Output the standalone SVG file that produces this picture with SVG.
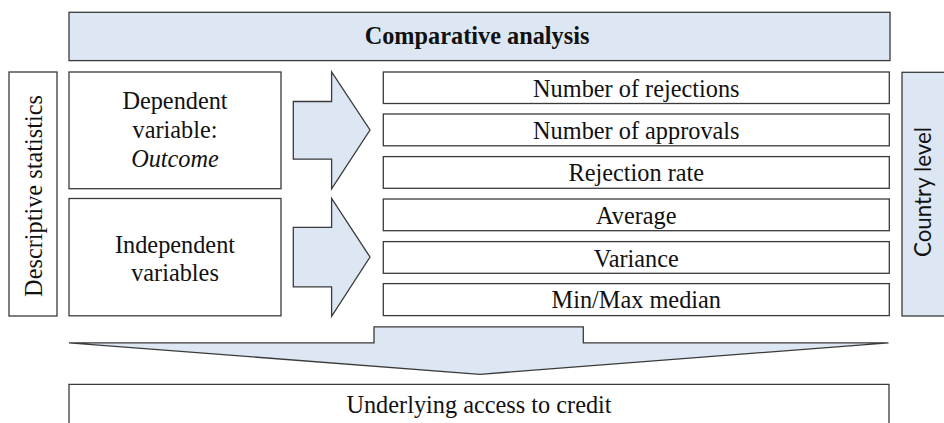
<svg xmlns="http://www.w3.org/2000/svg" width="944" height="423" viewBox="0 0 944 423">
  <style>
    .box { fill: #ffffff; stroke: #3a3a3a; stroke-width: 1.3; }
    .blue { fill: #dde7f3; stroke: #3a3a3a; stroke-width: 1.3; }
    .arrow { fill: #dde7f3; stroke: #3a3a3a; stroke-width: 1.3; stroke-linejoin: miter; }
    .serif { font-family: "Liberation Serif", "Times New Roman", serif; font-size: 24.3px; fill: #111111; }
    .bold { font-weight: bold; }
    .ital { font-style: italic; }
    .sans { font-family: Lato, "Open Sans", "Liberation Sans", sans-serif; font-size: 23px; fill: #111111; }
    .mid { text-anchor: middle; }
  </style>
  <rect width="944" height="423" fill="#ffffff"/>

  <!-- header banner -->
  <g id="comparative-analysis">
    <rect class="blue" x="69" y="12.3" width="821" height="48.3"/>
    <text class="serif bold mid" x="477" y="43.5">Comparative analysis</text>
  </g>

  <!-- left side label -->
  <g id="descriptive-statistics">
    <rect class="box" x="9" y="72" width="48" height="244"/>
    <text class="serif mid" transform="translate(41.5 196) rotate(-90)">Descriptive statistics</text>
  </g>

  <!-- variable blocks -->
  <g id="dependent-variable">
    <rect class="box" x="69" y="72" width="212" height="116.7"/>
    <text class="serif mid" x="175" y="109">Dependent</text>
    <text class="serif mid" x="175" y="138">variable:</text>
    <text class="serif mid ital" x="175" y="166.5">Outcome</text>
  </g>
  <g id="independent-variables">
    <rect class="box" x="69" y="198.5" width="212" height="117.3"/>
    <text class="serif mid" x="175" y="252.5">Independent</text>
    <text class="serif mid" x="175" y="280.5">variables</text>
  </g>

  <!-- measures -->
  <g id="number-of-rejections">
    <rect class="box" x="383.3" y="72" width="506" height="31.5"/>
    <text class="serif mid" x="636.3" y="96.5">Number of rejections</text>
  </g>
  <g id="number-of-approvals">
    <rect class="box" x="383.3" y="114" width="506" height="31.8"/>
    <text class="serif mid" x="636.3" y="138.5">Number of approvals</text>
  </g>
  <g id="rejection-rate">
    <rect class="box" x="383.3" y="156.6" width="506" height="31.7"/>
    <text class="serif mid" x="636.3" y="181.3">Rejection rate</text>
  </g>
  <g id="average">
    <rect class="box" x="383.3" y="199" width="506" height="31.7"/>
    <text class="serif mid" x="636.3" y="223.5">Average</text>
  </g>
  <g id="variance">
    <rect class="box" x="383.3" y="241.6" width="506" height="31.7"/>
    <text class="serif mid" x="636.3" y="266.5">Variance</text>
  </g>
  <g id="min-max-median">
    <rect class="box" x="383.3" y="283.6" width="506" height="32"/>
    <text class="serif mid" x="636.3" y="308.3">Min/Max median</text>
  </g>

  <!-- right side label -->
  <g id="country-level">
    <rect class="blue" x="902" y="72.3" width="46" height="243.7"/>
    <text class="sans mid" textLength="130" lengthAdjust="spacingAndGlyphs" transform="translate(930.5 192) rotate(-90)">Country level</text>
  </g>

  <!-- result -->
  <g id="underlying-access-to-credit">
    <path class="box" d="M69,430 V384.3 H889 V430"/>
    <text class="serif mid" x="479" y="413.3">Underlying access to credit</text>
  </g>

  <!-- block arrows -->
  <g id="connectors">
    <polygon class="arrow" points="293.3,101.5 331.6,101.5 331.6,71.8 370,130 331.6,188.8 331.6,159.2 293.3,159.2"/>
    <polygon class="arrow" points="293.3,227.4 331.6,227.4 331.6,198.4 370,257 331.6,316.3 331.6,286.8 293.3,286.8"/>
    <polygon class="arrow" points="69,342.8 374,342.8 374,326.8 583.3,326.8 583.3,342.8 888.5,342.8 480,374.3"/>
  </g>
</svg>
